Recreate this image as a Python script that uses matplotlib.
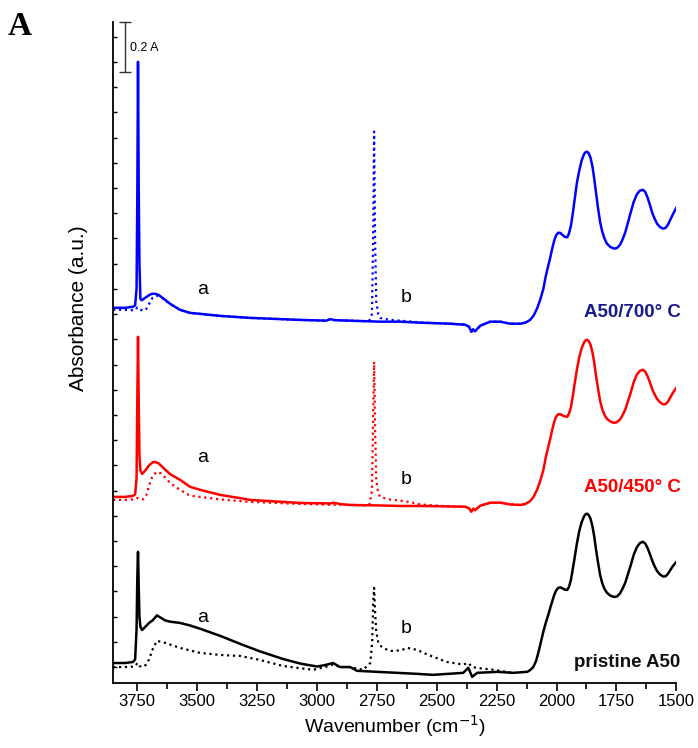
import numpy as np
import matplotlib
matplotlib.use("Agg")
import matplotlib.pyplot as plt

plt.rcParams['font.family'] = ['Liberation Sans', 'DejaVu Sans']

# ---- spectra: wavenumber (cm-1), absorbance (offset) ----
wn_700 = [3850, 3800, 3767, 3758, 3752, 3749, 3746, 3743, 3740, 3736, 3730, 3720, 3705, 3690,
          3675, 3660, 3640, 3612, 3571, 3529, 3487, 3404, 3278, 3070, 2961, 2944, 2925, 2861,
          2736, 2652, 2569, 2444, 2381, 2365, 2355, 2348, 2340, 2318, 2277, 2235, 2193, 2151,
          2130, 2110, 2095, 2080, 2068, 2055, 2045, 2035, 2026, 2018, 2010, 2002, 1993, 1984,
          1975, 1965, 1955, 1948, 1940, 1932, 1925, 1915, 1905, 1895, 1885, 1878, 1872, 1865,
          1858, 1850, 1843, 1835, 1826, 1818, 1810, 1800, 1790, 1775, 1760, 1748, 1735, 1725,
          1713, 1700, 1690, 1678, 1665, 1652, 1640, 1630, 1620, 1610, 1600, 1590, 1580, 1568,
          1555, 1545, 1535, 1525, 1515, 1500]
ab_700 = [1.425, 1.425, 1.429, 1.435, 1.50, 1.85, 2.401, 1.90, 1.60, 1.46, 1.455, 1.462, 1.472, 1.480,
          1.481, 1.476, 1.462, 1.441, 1.417, 1.405, 1.401, 1.393, 1.385, 1.377, 1.374, 1.380, 1.376, 1.374,
          1.370, 1.370, 1.366, 1.362, 1.358, 1.350, 1.330, 1.340, 1.332, 1.354, 1.370, 1.370, 1.362, 1.362,
          1.366, 1.377, 1.395, 1.425, 1.457, 1.50, 1.55, 1.59, 1.625, 1.66, 1.69, 1.712, 1.723, 1.722,
          1.714, 1.706, 1.705, 1.72, 1.75, 1.80, 1.85, 1.92, 1.97, 2.01, 2.035, 2.043, 2.044, 2.037,
          2.02, 1.985, 1.94, 1.88, 1.815, 1.765, 1.73, 1.70, 1.68, 1.666, 1.660, 1.662, 1.675, 1.695,
          1.725, 1.77, 1.805, 1.845, 1.875, 1.890, 1.893, 1.885, 1.862, 1.832, 1.80, 1.777, 1.758, 1.745,
          1.739, 1.742, 1.755, 1.775, 1.795, 1.822]

wn_700d = [3850, 3800, 3760, 3748, 3740, 3725, 3712, 3700, 3685, 3667, 3650, 3633, 3612, 3571,
           3529, 3487, 3404, 3278, 3070, 2961, 2944, 2925, 2861, 2800, 2780, 2770, 2765, 2761,
           2757, 2752, 2744, 2736, 2700, 2652, 2600, 2569, 2444, 2381, 2365, 2355, 2348, 2340,
           2318, 2277, 2235, 2193, 2151, 2130]
ab_700d = [1.417, 1.417, 1.415, 1.427, 1.420, 1.413, 1.42, 1.44, 1.465, 1.473, 1.468, 1.455, 1.440, 1.417,
           1.405, 1.401, 1.393, 1.385, 1.377, 1.374, 1.380, 1.376, 1.374, 1.372, 1.375, 1.40, 1.70, 2.124,
           1.70, 1.45, 1.40, 1.385, 1.378, 1.374, 1.370, 1.367, 1.362, 1.358, 1.350, 1.330, 1.340, 1.332,
           1.354, 1.370, 1.370, 1.362, 1.362, 1.366]

wn_450 = [3850, 3800, 3767, 3758, 3752, 3749, 3746, 3743, 3740, 3736, 3729, 3715, 3700, 3685,
          3675, 3660, 3640, 3612, 3571, 3529, 3487, 3404, 3320, 3278, 3070, 2944, 2930, 2900,
          2861, 2736, 2652, 2569, 2444, 2381, 2365, 2355, 2348, 2340, 2318, 2277, 2235, 2193,
          2151, 2130, 2110, 2095, 2080, 2068, 2055, 2045, 2035, 2026, 2018, 2010, 2002, 1993,
          1984, 1975, 1965, 1955, 1948, 1940, 1932, 1925, 1915, 1905, 1895, 1885, 1878, 1872,
          1865, 1858, 1850, 1843, 1835, 1826, 1818, 1810, 1800, 1790, 1775, 1760, 1748, 1735,
          1725, 1713, 1700, 1690, 1678, 1665, 1652, 1640, 1630, 1620, 1610, 1600, 1590, 1580,
          1568, 1555, 1545, 1535, 1525, 1515, 1500]
ab_450 = [0.675, 0.675, 0.679, 0.685, 0.75, 1.05, 1.310, 1.05, 0.84, 0.78, 0.766, 0.78, 0.80, 0.812,
          0.814, 0.808, 0.790, 0.765, 0.743, 0.715, 0.703, 0.683, 0.670, 0.663, 0.651, 0.649, 0.652, 0.646,
          0.643, 0.641, 0.639, 0.639, 0.637, 0.636, 0.630, 0.616, 0.628, 0.622, 0.640, 0.652, 0.652, 0.645,
          0.643, 0.647, 0.658, 0.676, 0.706, 0.738, 0.781, 0.831, 0.871, 0.906, 0.941, 0.971, 0.993, 1.003,
          1.003, 0.998, 0.994, 0.993, 1.005, 1.03, 1.075, 1.12, 1.18, 1.23, 1.265, 1.288, 1.297, 1.298,
          1.292, 1.278, 1.248, 1.21, 1.155, 1.10, 1.055, 1.025, 1.00, 0.985, 0.974, 0.969, 0.971, 0.982,
          0.998, 1.022, 1.06, 1.09, 1.13, 1.16, 1.175, 1.179, 1.172, 1.153, 1.128, 1.10, 1.08, 1.063,
          1.05, 1.042, 1.043, 1.053, 1.07, 1.087, 1.108]

wn_450d = [3850, 3800, 3760, 3748, 3740, 3725, 3712, 3700, 3685, 3667, 3650, 3633, 3612, 3571,
           3529, 3487, 3404, 3278, 3070, 2944, 2861, 2800, 2780, 2770, 2765, 2761, 2757, 2752,
           2744, 2736, 2700, 2652, 2623, 2590, 2569, 2444, 2381, 2365, 2355, 2348, 2340, 2318,
           2277, 2235, 2193, 2151, 2130]
ab_450d = [0.663, 0.663, 0.665, 0.671, 0.667, 0.665, 0.68, 0.72, 0.76, 0.774, 0.768, 0.752, 0.73, 0.703,
           0.680, 0.675, 0.665, 0.655, 0.647, 0.644, 0.643, 0.641, 0.645, 0.70, 1.0, 1.211, 0.95, 0.74,
           0.69, 0.675, 0.665, 0.660, 0.656, 0.650, 0.645, 0.637, 0.636, 0.630, 0.616, 0.628, 0.622, 0.640,
           0.652, 0.652, 0.645, 0.643, 0.647]

wn_pr = [3850, 3800, 3767, 3758, 3752, 3749, 3746, 3743, 3740, 3736, 3729, 3715, 3700, 3685,
         3667, 3650, 3633, 3612, 3571, 3529, 3487, 3404, 3320, 3237, 3141, 3070, 2999, 2965,
         2932, 2903, 2861, 2832, 2748, 2581, 2515, 2389, 2368, 2352, 2331, 2247, 2181, 2122,
         2110, 2097, 2085, 2075, 2068, 2055, 2045, 2035, 2026, 2018, 2010, 2002, 1993, 1984,
         1975, 1965, 1955, 1948, 1940, 1932, 1925, 1915, 1905, 1895, 1885, 1878, 1872, 1865,
         1858, 1850, 1843, 1835, 1826, 1818, 1810, 1800, 1790, 1775, 1760, 1748, 1735, 1725,
         1713, 1700, 1690, 1678, 1665, 1652, 1640, 1630, 1620, 1610, 1600, 1590, 1580, 1568,
         1555, 1545, 1535, 1525, 1515, 1500]
ab_pr = [0.016, 0.016, 0.02, 0.03, 0.15, 0.35, 0.457, 0.32, 0.20, 0.16, 0.147, 0.16, 0.175, 0.185,
         0.205, 0.195, 0.185, 0.180, 0.175, 0.165, 0.152, 0.124, 0.092, 0.062, 0.032, 0.014, 0.002, 0.008,
         0.016, 0.000, 0.000, -0.015, -0.019, -0.027, -0.031, -0.023, -0.003, -0.039, -0.023, -0.019, -0.023, -0.019,
         -0.012, 0.000, 0.025, 0.06, 0.088, 0.14, 0.175, 0.205, 0.235, 0.26, 0.285, 0.303, 0.314, 0.316,
         0.312, 0.307, 0.306, 0.318, 0.345, 0.39, 0.43, 0.49, 0.54, 0.575, 0.598, 0.607, 0.608, 0.602,
         0.588, 0.558, 0.52, 0.465, 0.41, 0.365, 0.335, 0.31, 0.295, 0.283, 0.278, 0.280, 0.292, 0.31,
         0.335, 0.375, 0.405, 0.445, 0.475, 0.492, 0.497, 0.49, 0.472, 0.447, 0.42, 0.398, 0.38, 0.367,
         0.359, 0.36, 0.37, 0.385, 0.40, 0.417]

wn_prd = [3850, 3800, 3760, 3748, 3740, 3725, 3712, 3700, 3685, 3667, 3650, 3633, 3571, 3487,
          3404, 3320, 3237, 3141, 3015, 2965, 2932, 2903, 2861, 2807, 2777, 2769, 2765, 2761,
          2757, 2752, 2744, 2736, 2715, 2690, 2650, 2623, 2581, 2540, 2457, 2389, 2368, 2352,
          2320, 2260, 2210, 2181]
ab_prd = [0.000, 0.000, 0.002, 0.016, 0.004, 0.000, 0.010, 0.030, 0.070, 0.104, 0.100, 0.096, 0.076, 0.056,
          0.048, 0.044, 0.028, 0.004, -0.011, 0.000, 0.010, 0.000, 0.000, -0.011, 0.016, 0.10, 0.25, 0.314,
          0.22, 0.14, 0.10, 0.085, 0.072, 0.064, 0.066, 0.076, 0.068, 0.050, 0.020, 0.010, 0.016, 0.000,
          -0.005, -0.011, -0.019, -0.023]

# label positions (wavenumber, absorbance)
a_pos = [(3475, 1.497), (3475, 0.830), (3475, 0.195)]
b_pos = [(2627, 1.465), (2627, 0.743), (2627, 0.151)]
names = ['A50/700° C', 'A50/450° C', 'pristine A50']
name_y = [1.405, 0.711, 0.020]
name_colors = ['#1a1a8c', '#ff0000', '#111111']
xticks = [3750, 3500, 3250, 3000, 2750, 2500, 2250, 2000, 1750, 1500]

fig = plt.figure(figsize=(6.98, 7.48), dpi=100)
ax = fig.add_axes([0.162, 0.087, 0.807, 0.884])

ax.plot(wn_700d, ab_700d, color='#0000ff', ls=':', lw=1.6)
ax.plot(wn_700, ab_700, color='#0000ff', lw=1.8)
ax.plot(wn_450d, ab_450d, color='#ff0000', ls=':', lw=1.6)
ax.plot(wn_450, ab_450, color='#ff0000', lw=1.8)
ax.plot(wn_prd, ab_prd, color='black', ls=':', lw=1.6)
ax.plot(wn_pr, ab_pr, color='black', lw=1.8)

for (x, y) in a_pos:
    ax.text(x, y, 'a', fontsize=14, ha='center', va='center')
for (x, y) in b_pos:
    ax.text(x, y, 'b', fontsize=14, ha='center', va='center')
for n, y, c in zip(names, name_y, name_colors):
    ax.text(1483, y, n, fontsize=13.5, fontweight='bold', color=c, ha='right', va='center')

# 0.2 A scale bar
ax.plot([3800, 3800], [2.36, 2.56], color='#333333', lw=1.0, marker='_', ms=9, mew=1.0, clip_on=False)
ax.text(3778, 2.457, '0.2 A', fontsize=9, ha='left', va='center')

ax.set_xlim(3850, 1500)
ax.set_ylim(-0.063, 2.56)
ax.set_xticks(xticks)
ax.set_xticks(np.arange(1625, 3850, 250), minor=True)
ax.set_yticks(np.arange(0, 2.55, 0.1))
ax.set_yticklabels([])
ax.tick_params(axis='x', which='major', direction='out', length=6, width=1.2, labelsize=12, pad=2)
ax.tick_params(axis='x', which='minor', direction='out', length=4, width=1.2)
ax.tick_params(axis='y', which='major', direction='in', length=3, width=1.0)
for s in ['top', 'right']:
    ax.spines[s].set_visible(False)
for s in ['left', 'bottom']:
    ax.spines[s].set_linewidth(1.3)

ax.set_xlabel('Wavenumber (cm$^{-1}$)', fontsize=14, labelpad=3)
ax.set_ylabel('Absorbance (a.u.)', fontsize=15)
ax.yaxis.set_label_coords(-0.045, 0.567)

fig.text(0.011, 0.953, 'A', fontsize=24, fontweight='bold', family='Liberation Serif', va='baseline')

fig.savefig('out.png', dpi=100)
